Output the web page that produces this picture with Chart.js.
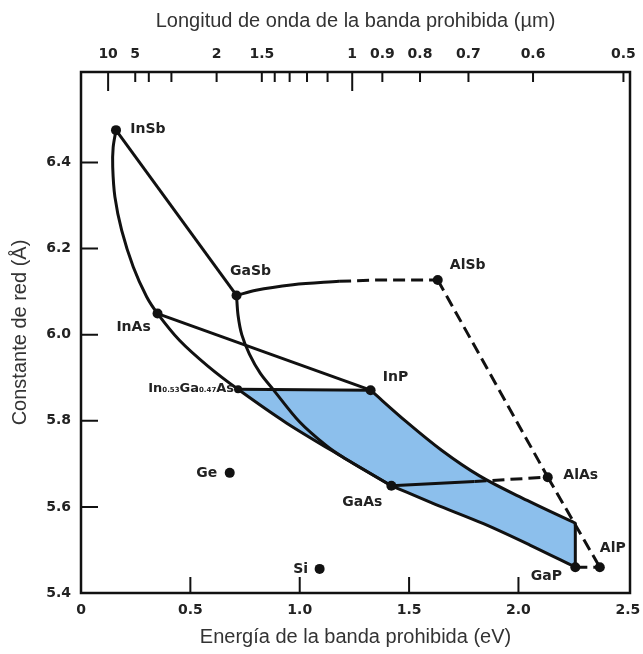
<!DOCTYPE html>
<html>
<head>
<meta charset="utf-8">
<script src="https://cdn.jsdelivr.net/npm/chart.js@4.4.0/dist/chart.umd.min.js"></script>
<style>
  html, body { margin: 0; padding: 0; background: #fff; }
  #wrap { width: 643px; height: 654px; }
</style>
</head>
<body>
<div id="wrap"><canvas id="chart"></canvas></div>
<script>
// Compounds: band-gap energy (eV) vs lattice constant (Å)
const compoundNames   = ['InSb', 'GaSb', 'AlSb', 'InAs', 'InP', 'InGaAs', 'Ge', 'GaAs', 'AlAs', 'Si', 'GaP', 'AlP'];
const compoundEnergy  = [0.160, 0.711, 1.631, 0.350, 1.324, 0.718, 0.680, 1.419, 2.134, 1.091, 2.260, 2.372];
const compoundLattice = [6.475, 6.091, 6.127, 6.049, 5.871, 5.873, 5.679, 5.649, 5.669, 5.456, 5.460, 5.460];

// Alloy curves, [energy, lattice] pairs
const curveInSbGaSb   = [[0.160, 6.475], [0.711, 6.091]];
const curveInSbGaAs   = [[0.160, 6.475], [0.147, 6.435], [0.145, 6.389], [0.155, 6.320], [0.186, 6.242],
                         [0.239, 6.157], [0.300, 6.088], [0.350, 6.049], [0.450, 5.987], [0.580, 5.927],
                         [0.718, 5.873], [0.939, 5.795], [1.205, 5.713], [1.419, 5.649]];
const curveGaSbGaAs   = [[0.711, 6.091], [0.718, 6.045], [0.735, 6.000], [0.770, 5.955], [0.820, 5.910],
                         [0.878, 5.873], [1.000, 5.797], [1.122, 5.742], [1.205, 5.713], [1.419, 5.649]];
const curveInAsInP    = [[0.350, 6.049], [1.324, 5.871]];
const curveInGaAsInP  = [[0.718, 5.873], [1.324, 5.871]];
const curveInPEdge    = [[1.324, 5.871], [1.487, 5.798], [1.650, 5.731], [1.822, 5.672], [2.040, 5.615], [2.260, 5.562]];
const curveEdgeGaP    = [[2.260, 5.562], [2.260, 5.460]];
const curveGaAsGaP    = [[1.419, 5.649], [1.620, 5.606], [1.840, 5.561], [2.050, 5.512], [2.260, 5.460]];
const curveGaSbAlSb   = [[0.711, 6.091], [0.800, 6.103], [0.969, 6.116], [1.180, 6.124]];
const dashGaSbAlSb    = [[1.180, 6.124], [1.400, 6.127], [1.631, 6.127]];
const curveGaAsAlAs   = [[1.419, 5.649], [1.799, 5.659]];
const dashGaAsAlAs    = [[1.799, 5.659], [2.134, 5.669]];
const dashAlSbAlAs    = [[1.631, 6.127], [2.134, 5.669]];
const dashAlAsAlP     = [[2.134, 5.669], [2.372, 5.460]];
const dashGaPAlP      = [[2.260, 5.460], [2.372, 5.460]];

// Lattice-matched InGaAsP region (shaded)
const regionInGaAsP = [[0.718, 5.873], [1.324, 5.871], [1.487, 5.798], [1.650, 5.731], [1.822, 5.672],
                       [2.040, 5.615], [2.260, 5.562], [2.260, 5.460], [2.050, 5.512], [1.840, 5.561],
                       [1.620, 5.606], [1.419, 5.649], [1.205, 5.713], [0.939, 5.795]];

// Axis ticks
const energyTicks  = [0, 0.5, 1.0, 1.5, 2.0, 2.5];
const latticeTicks = [5.4, 5.6, 5.8, 6.0, 6.2, 6.4];
const wavelengthTicks  = [10, 5, 4, 3, 2, 1.5, 1.4, 1.3, 1.2, 1.1, 1, 0.9, 0.8, 0.7, 0.6, 0.5];
const wavelengthLabels = ['10', '5', '', '', '2', '1.5', '', '', '', '', '1', '0.9', '0.8', '0.7', '0.6', '0.5'];

const INK = '#111';
const BLUE = 'rgb(140, 191, 236)';
const TICK_FONT = { family: 'DejaVu Sans', size: 14, weight: 'bold' };
const TITLE_FONT = { family: 'Liberation Sans', size: 20 };
const LABEL_SIZE = 14;

// label offsets from the dot, in px
const labelOffsets = {
  InSb: [32, -1], GaSb: [14, -24], AlSb: [30, -15], InAs: [-24, 14], InP: [25, -13],
  Ge: [-23, 0], GaAs: [-29, 17], AlAs: [33, -2], Si: [-19, 0], GaP: [-29, 9], AlP: [13, -19]
};

const toXY = pts => pts.map(([x, y]) => ({ x, y }));

// smooth: 'tension' for curves that turn back in x, 'monotone' for the rest
function curve(pts, dashed, smooth) {
  return {
    data: toXY(pts),
    showLine: true,
    borderColor: INK,
    borderWidth: 3,
    borderDash: dashed ? [12, 6] : [],
    borderCapStyle: 'butt',
    borderJoinStyle: 'round',
    tension: smooth === 'tension' ? 0.3 : 0,
    cubicInterpolationMode: smooth === 'monotone' ? 'monotone' : 'default',
    pointRadius: 0,
    fill: false,
  };
}

const axesPlugin = {
  id: 'axesPlugin',
  afterDatasetsDraw(chart) {
    const { ctx, chartArea: a, scales } = chart;
    ctx.save();
    ctx.strokeStyle = INK;
    ctx.lineWidth = 2;
    ctx.beginPath();
    // ticks point into the plot
    energyTicks.slice(1, -1).forEach(v => {
      const px = scales.x.getPixelForValue(v);
      ctx.moveTo(px, a.bottom); ctx.lineTo(px, a.bottom - 16);
    });
    latticeTicks.slice(1).forEach(v => {
      const py = scales.y.getPixelForValue(v);
      ctx.moveTo(a.left, py); ctx.lineTo(a.left + 17, py);
    });
    wavelengthTicks.forEach(l => {
      const px = scales.xTop.getPixelForValue(1.24 / l);
      const len = (l === 10 || l === 1) ? 19 : 10;
      ctx.moveTo(px, a.top); ctx.lineTo(px, a.top + len);
    });
    ctx.stroke();
    ctx.lineWidth = 2.5;
    ctx.strokeRect(a.left, a.top, a.right - a.left, a.bottom - a.top);

    // compound labels
    ctx.fillStyle = '#222';
    ctx.textBaseline = 'middle';
    compoundNames.forEach((name, i) => {
      const px = scales.x.getPixelForValue(compoundEnergy[i]);
      const py = scales.y.getPixelForValue(compoundLattice[i]);
      if (name === 'InGaAs') {
        const parts = [['In', 13, 0], ['0.53', 7, 2], ['Ga', 13, 0], ['0.47', 7, 2], ['As', 13, 0]];
        let w = 0;
        parts.forEach(p => { ctx.font = 'bold ' + p[1] + 'px "DejaVu Sans"'; w += ctx.measureText(p[0]).width; });
        let x = px - 4 - w;
        ctx.textAlign = 'left';
        parts.forEach(p => {
          ctx.font = 'bold ' + p[1] + 'px "DejaVu Sans"';
          ctx.fillText(p[0], x, py - 1 + p[2]);
          x += ctx.measureText(p[0]).width;
        });
        return;
      }
      const [dx, dy] = labelOffsets[name];
      ctx.font = 'bold ' + LABEL_SIZE + 'px "DejaVu Sans"';
      ctx.textAlign = 'center';
      ctx.fillText(name, px + dx, py + dy);
    });
    ctx.restore();
  }
};

const datasets = [
  {
    data: compoundNames.map((n, i) => ({ x: compoundEnergy[i], y: compoundLattice[i] })),
    showLine: false,
    pointRadius: compoundNames.map(n => n === 'InGaAs' ? 4 : 5),
    pointBackgroundColor: INK,
    pointBorderWidth: 0,
  },
  curve(curveInSbGaSb),
  curve(curveInSbGaAs, false, 'tension'),
  curve(curveGaSbGaAs, false, 'tension'),
  curve(curveInAsInP),
  curve(curveInGaAsInP),
  curve(curveInPEdge, false, 'monotone'),
  curve(curveEdgeGaP),
  curve(curveGaAsGaP, false, 'monotone'),
  curve(curveGaSbAlSb, false, 'monotone'),
  curve(dashGaSbAlSb, true, 'monotone'),
  curve(curveGaAsAlAs),
  curve(dashGaAsAlAs, true),
  curve(dashAlSbAlAs, true),
  curve(dashAlAsAlP, true),
  curve(dashGaPAlP, true),
  {
    data: toXY(regionInGaAsP),
    showLine: true,
    borderWidth: 0,
    borderColor: 'rgba(0,0,0,0)',
    backgroundColor: BLUE,
    pointRadius: 0,
    tension: 0,
    fill: 'shape',
  },
];

const fitHorizontal = h => s => { s.height = h; s.paddingLeft = 0; s.paddingRight = 0; };

new Chart(document.getElementById('chart'), {
  type: 'scatter',
  data: { datasets },
  options: {
    responsive: true,
    maintainAspectRatio: false,
    animation: false,
    layout: { padding: { left: 0, right: 13, top: 0, bottom: 0 } },
    plugins: { legend: { display: false }, tooltip: { enabled: false } },
    scales: {
      x: {
        type: 'linear', position: 'bottom', min: 0, max: 2.51,
        afterBuildTicks: s => { s.ticks = energyTicks.map(v => ({ value: v })); },
        afterFit: fitHorizontal(61),
        grid: { display: false, drawTicks: false },
        border: { display: false },
        ticks: {
          padding: 9, color: '#222', font: TICK_FONT, autoSkip: false, maxRotation: 0,
          callback: v => v === 0 ? '0' : v.toFixed(1),
        },
        title: {
          display: true, text: 'Energía de la banda prohibida (eV)', color: '#333',
          font: TITLE_FONT, padding: { top: 0, bottom: 5 },
        },
      },
      xTop: {
        type: 'linear', position: 'top', min: 0, max: 2.51,
        afterBuildTicks: s => { s.ticks = wavelengthTicks.map(l => ({ value: 1.24 / l })); },
        afterFit: fitHorizontal(72),
        grid: { display: false, drawTicks: false },
        border: { display: false },
        ticks: {
          padding: 9, color: '#222', font: TICK_FONT, autoSkip: false, maxRotation: 0,
          callback: (v, i) => wavelengthLabels[i],
        },
        title: {
          display: true, text: 'Longitud de onda de la banda prohibida (\u00b5m)', color: '#333',
          font: TITLE_FONT, padding: { top: 9, bottom: 0 },
        },
      },
      y: {
        type: 'linear', position: 'left', min: 5.4, max: 6.61,
        afterBuildTicks: s => { s.ticks = latticeTicks.map(v => ({ value: v })); },
        afterFit: s => { s.width = 81; },
        grid: { display: false, drawTicks: false },
        border: { display: false },
        ticks: {
          padding: 10, color: '#222', font: TICK_FONT,
          callback: v => v.toFixed(1),
        },
        title: {
          display: true, text: 'Constante de red (\u00c5)', color: '#333',
          font: TITLE_FONT, padding: { top: 8, bottom: 0 },
        },
      },
    },
  },
  plugins: [axesPlugin],
});
</script>
</body>
</html>
